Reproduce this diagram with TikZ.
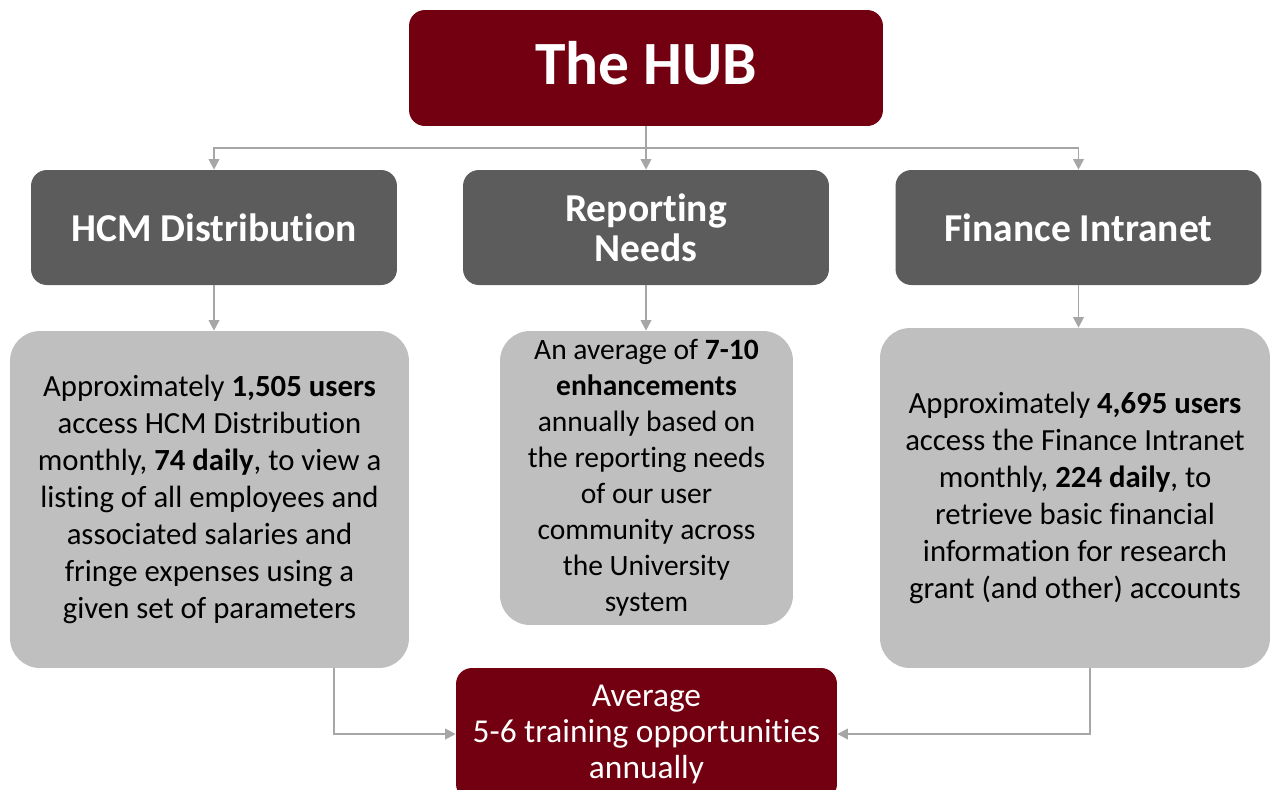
\documentclass[tikz,border=0pt]{standalone}
\usepackage{fontspec}
\setmainfont{Carlito}[Ligatures=NoCommon]
\usepackage{xcolor}
\usetikzlibrary{arrows.meta}
\definecolor{hubred}{HTML}{730010}
\definecolor{headgray}{HTML}{5C5C5C}
\definecolor{bodygray}{HTML}{BFBFBF}
\definecolor{linkgray}{HTML}{A6A6A6}
\newcommand{\headW}{7.32cm}
\newcommand{\headH}{2.3cm}
\newcommand{\bodyfont}{\fontsize{17.5}{21}\selectfont}

\begin{document}
\begin{tikzpicture}[x=0.02cm, y=-0.02cm, >={Triangle[length=6pt, width=6pt]},
    hubbox/.style={fill=hubred, rounded corners=9pt, text=white, align=center, inner sep=0pt},
    headbox/.style={fill=headgray, rounded corners=9pt, text=white, align=center, inner sep=0pt,
        minimum width=\headW, minimum height=\headH, font=\fontsize{22.5}{23}\selectfont\bfseries},
    bodybox/.style={fill=bodygray, rounded corners=17pt, text=black, align=center, inner sep=0pt, font=\bodyfont},
    link/.style={draw=linkgray, line width=1.1pt}]
    \useasboundingbox (0, 0) rectangle (1270, 789);

    % top
    \node [hubbox, minimum width=9.48cm, minimum height=2.32cm, text depth=6pt, font=\fontsize{35}{40}\selectfont\bfseries] (hub) at (646, 68) {The HUB};

    % headers
    \node [headbox] (hcm) at (214, 227.5) {HCM Distribution};
    \node [headbox] (rep) at (646, 227.5) {Reporting\\Needs};
    \node [headbox] (fin) at (1078.5, 227.5) {Finance Intranet};

    % descriptions
    \node [bodybox, minimum width=7.98cm, minimum height=6.74cm] (hcmtxt) at (209.5, 499.5)
        {Approximately \textbf{1,505 users}\\access HCM Distribution\\monthly, \textbf{74 daily}, to view a\\listing of all employees and\\associated salaries and\\fringe expenses using a\\given set of parameters};
    \node [bodybox, minimum width=5.86cm, minimum height=5.88cm, font=\fontsize{16.8}{20.5}\selectfont] (reptxt) at (646.5, 478)
        {An average of \textbf{7-10}\\\textbf{enhancements}\\annually based on\\the reporting needs\\of our user\\community across\\the University\\system};
    \node [bodybox, minimum width=7.8cm, minimum height=6.8cm] (fintxt) at (1075, 498)
        {Approximately \textbf{4,695 users}\\access the Finance Intranet\\monthly, \textbf{224 daily}, to\\retrieve basic financial\\information for research\\grant (and other) accounts};

    % bottom
    \node [hubbox, minimum width=7.62cm, minimum height=2.64cm, font=\fontsize{19}{20.5}\selectfont] (train) at (646.5, 734)
        {Average\\5-6 training opportunities\\annually};

    % connectors
    \coordinate (split) at (646, 148);
    \draw [link, ->] (hub.south) -- (split) -| (hcm.north);
    \draw [link, ->] (split) -| (fin.north);
    \draw [link, ->] (split) -- (rep.north);
    \draw [link, ->] (hcm.south) -- (hcm.south |- hcmtxt.north);
    \draw [link, ->] (rep.south) -- (rep.south |- reptxt.north);
    \draw [link, ->] (fin.south) -- (fin.south |- fintxt.north);
    \draw [link, ->] ([xshift=2.49cm]hcmtxt.south) |- (train.west);
    \draw [link, ->] ([xshift=0.3cm]fintxt.south) |- (train.east);
\end{tikzpicture}
\end{document}
